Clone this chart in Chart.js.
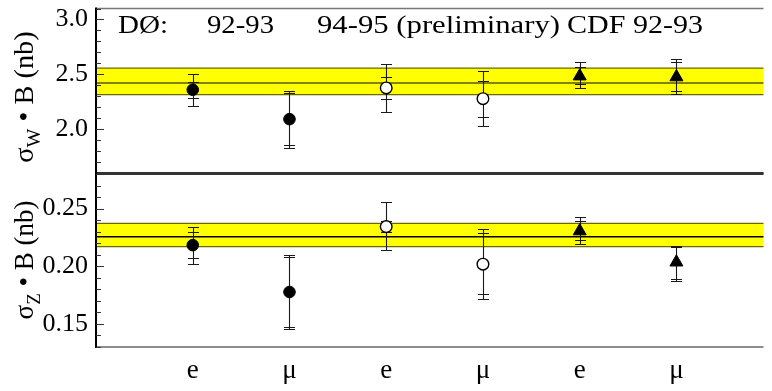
<!DOCTYPE html>
<html><head><meta charset="utf-8">
<script src="https://cdn.jsdelivr.net/npm/chart.js@4.4.1/dist/chart.umd.min.js"></script>
<style>
html,body{margin:0;padding:0;background:#fff;}
#wrap{position:relative;width:772px;height:391px;}
canvas{position:absolute;left:0;top:0;}
</style></head><body>
<div id="wrap"><canvas id="cw" width="772" height="391"></canvas><canvas id="cz" width="772" height="391"></canvas></div>
<script>
// ---- data ----
const categories = ['e','μ','e','μ','e','μ'];
const groups = ['DØ 92-93','DØ 94-95 (preliminary)','CDF 92-93'];
const groupOf = [0,0,1,1,2,2];
const headerLabels = ['DØ:','92-93','94-95 (preliminary)','CDF 92-93'];

const sigmaW       = [2.359, 2.091, 2.376, 2.278, 2.483, 2.475];
const sigmaWStatLo = [2.286, 1.859, 2.274, 2.115, 2.411, 2.344];
const sigmaWStatHi = [2.426, 2.330, 2.478, 2.435, 2.568, 2.614];
const sigmaWTotLo  = [2.208, 1.829, 2.158, 2.027, 2.374, 2.324];
const sigmaWTotHi  = [2.507, 2.347, 2.597, 2.527, 2.609, 2.638];
const bandW = [2.315, 2.420, 2.557];

const sigmaZ       = [0.2183, 0.1777, 0.2344, 0.2018, 0.2305, 0.2035];
const sigmaZStatLo = [0.2073, 0.1473, 0.2296, 0.1757, 0.2227, 0.1888];
const sigmaZStatHi = [0.2296, 0.2081, 0.2392, 0.2285, 0.2394, 0.2170];
const sigmaZTotLo  = [0.2021, 0.1459, 0.2140, 0.1714, 0.2192, 0.1876];
const sigmaZTotHi  = [0.2342, 0.2096, 0.2554, 0.2325, 0.2429, 0.2177];
const bandZ = [0.2170, 0.2257, 0.2372];

const ticksW = [2.0, 2.5, 3.0];
const ticksZ = [0.15, 0.20, 0.25];

const SERIF = '"Liberation Serif", "DejaVu Serif", serif';

function makeDatasets(vals){
  return groups.map((g,gi)=>({
    label:g,
    data: vals.map((v,i)=>({x:i+1,y:v})).filter((p,i)=>groupOf[i]===gi),
    pointStyle: gi===2 ? 'triangle' : 'circle',
    pointRadius: gi===2 ? 7.5 : 5.8,
    backgroundColor: gi===1 ? '#fff' : '#000',
    borderColor:'#000',
    borderWidth: gi===1 ? 1.4 : 1,
    showLine:false
  }));
}

const panelPlugin = {
  id:'panel',
  beforeDatasetsDraw(chart, args, o){
    const {ctx, chartArea:a, scales:{x,y}} = chart;
    ctx.save();
    const yLo=y.getPixelForValue(o.band[0]), yC=y.getPixelForValue(o.band[1]), yHi=y.getPixelForValue(o.band[2]);
    ctx.fillStyle='#ffff00';
    ctx.fillRect(a.left, yHi, a.right-a.left, yLo-yHi);
    ctx.lineWidth=1.3;
    ctx.strokeStyle=o.edgeColor;
    ctx.beginPath();
    ctx.moveTo(a.left,yHi); ctx.lineTo(a.right,yHi);
    ctx.moveTo(a.left,yLo); ctx.lineTo(a.right,yLo);
    ctx.stroke();
    ctx.strokeStyle=o.centerColor; ctx.lineWidth=1.5;
    ctx.beginPath(); ctx.moveTo(a.left,yC); ctx.lineTo(a.right,yC); ctx.stroke();
    // error bars
    ctx.strokeStyle='#1a1a1a'; ctx.lineWidth=1.1;
    for(let i=0;i<o.totLo.length;i++){
      const px=Math.round(x.getPixelForValue(i+1))+0.5;
      const ys=[o.totLo[i],o.totHi[i],o.statLo[i],o.statHi[i]].map(v=>Math.round(y.getPixelForValue(v))+0.5);
      ctx.beginPath();
      ctx.moveTo(px,ys[0]); ctx.lineTo(px,ys[1]);
      ys.forEach(yy=>{ctx.moveTo(px-5.5,yy); ctx.lineTo(px+5.5,yy);});
      ctx.stroke();
    }
    ctx.restore();
  },
  afterDraw(chart, args, o){
    const {ctx, chartArea:a, scales:{y}} = chart;
    ctx.save();
    // frame
    ctx.strokeStyle=o.topColor; ctx.lineWidth=o.topWidth;
    ctx.beginPath(); ctx.moveTo(a.left,a.top); ctx.lineTo(a.right,a.top); ctx.stroke();
    ctx.strokeStyle=o.bottomColor; ctx.lineWidth=o.bottomWidth;
    ctx.beginPath(); ctx.moveTo(a.left,a.bottom); ctx.lineTo(a.right,a.bottom); ctx.stroke();
    ctx.strokeStyle='#000'; ctx.lineWidth=2;
    ctx.beginPath(); ctx.moveTo(a.left,a.top-1); ctx.lineTo(a.left,a.bottom+1); ctx.stroke();
    // inward ticks
    ctx.strokeStyle='#333'; ctx.lineWidth=1;
    const k0=Math.ceil(y.min/o.minorStep-1e-6), k1=Math.floor(y.max/o.minorStep+1e-6);
    ctx.beginPath();
    for(let k=k0;k<=k1;k++){
      const v=k*o.minorStep;
      const major=Math.abs(v/o.majorStep-Math.round(v/o.majorStep))<1e-6;
      const py=Math.round(y.getPixelForValue(v))+0.5;
      ctx.moveTo(a.left,py); ctx.lineTo(a.left+(major?8:5),py);
    }
    ctx.stroke();
    // axis title with subscript
    ctx.translate(o.titleX, o.titleY);
    ctx.rotate(-Math.PI/2);
    ctx.scale(o.titleScale,1);
    ctx.fillStyle='#000';
    ctx.textBaseline='alphabetic';
    const fMain='27px '+SERIF, fSub='19px '+SERIF;
    ctx.font=fMain; const w1=ctx.measureText(o.titleMain).width;
    ctx.font=fSub; const w2=ctx.measureText(o.titleSub).width;
    ctx.font=fMain; const w3=ctx.measureText(o.titleRest).width;
    let sx=-(w1+w2+w3)/2;
    ctx.font=fMain; ctx.fillText(o.titleMain,sx,0); sx+=w1;
    ctx.font=fSub; ctx.fillText(o.titleSub,sx,7); sx+=w2;
    ctx.font=fMain; ctx.fillText(o.titleRest,sx,0);
    ctx.setTransform(1,0,0,1,0,0);
    // header (each piece fitted to its span in the original)
    if(o.header){
      ctx.font='25px '+SERIF; ctx.fillStyle='#000'; ctx.textBaseline='alphabetic';
      const spans=[[118,168],[207,274],[317,560],[567,703]];
      headerLabels.forEach((t,i)=>{
        const w=ctx.measureText(t).width;
        const sc=(spans[i][1]-spans[i][0])/w;
        ctx.save(); ctx.translate(spans[i][0],33); ctx.scale(sc,1); ctx.fillText(t,0,0); ctx.restore();
      });
    }
    ctx.restore();
  }
};

function makeChart(id, vals, opt){
  return new Chart(document.getElementById(id), {
    type:'scatter',
    data:{datasets:makeDatasets(vals)},
    options:{
      responsive:false, animation:false, events:[],
      layout:{padding:{top:opt.padTop, bottom:opt.padBottom, left:0, right:0}},
      plugins:{legend:{display:false}, tooltip:{enabled:false}, panel:opt.panel},
      scales:{
        x:{type:'linear', min:0, max:6.9, display:opt.showX,
           afterBuildTicks:s=>{s.ticks=categories.map((c,i)=>({value:i+1}));},
           ticks:{callback:v=>categories[v-1], font:{family:SERIF,size:27}, color:'#000', padding:8, autoSkip:false, maxRotation:0},
           grid:{display:false, drawTicks:false}, border:{display:false},
           afterFit:s=>{ if(s.options.display){ s.height=44; } else { s.height=0; } s.paddingLeft=0; s.paddingRight=0;}},
        y:{min:opt.min, max:opt.max,
           afterBuildTicks:s=>{s.ticks=opt.ticks.map(v=>({value:v}));},
           ticks:{callback:v=>v.toFixed(opt.dec), font:{family:SERIF,size:26}, color:'#000', padding:8},
           grid:{display:false, drawTicks:false}, border:{display:false},
           afterFit:s=>{s.width=96; s.paddingTop=0; s.paddingBottom=0;}}
      }
    },
    plugins:[panelPlugin]
  });
}

makeChart('cw', sigmaW, {min:1.6, max:3.1, ticks:ticksW, dec:1, padTop:1, padBottom:218, showX:false,
  panel:{band:bandW, statLo:sigmaWStatLo, statHi:sigmaWStatHi, totLo:sigmaWTotLo, totHi:sigmaWTotHi,
    edgeColor:'#6a6a00', centerColor:'#5a5a10', minorStep:0.1, majorStep:0.5,
    topColor:'#777', topWidth:1.5, bottomColor:'#333', bottomWidth:2,
    titleMain:'σ', titleSub:'W', titleRest:' • B (nb)', titleX:33, titleY:97, titleScale:1.05, header:true}});
makeChart('cz', sigmaZ, {min:0.13, max:0.28, ticks:ticksZ, dec:2, padTop:174, padBottom:0, showX:true,
  panel:{band:bandZ, statLo:sigmaZStatLo, statHi:sigmaZStatHi, totLo:sigmaZTotLo, totHi:sigmaZTotHi,
    edgeColor:'#6a6a00', centerColor:'#000', minorStep:0.01, majorStep:0.05,
    topColor:'#333', topWidth:2, bottomColor:'#666', bottomWidth:1.5,
    titleMain:'σ', titleSub:'Z', titleRest:' • B (nb)', titleX:33, titleY:260, titleScale:1.0, header:false}});
</script>
</body></html>
